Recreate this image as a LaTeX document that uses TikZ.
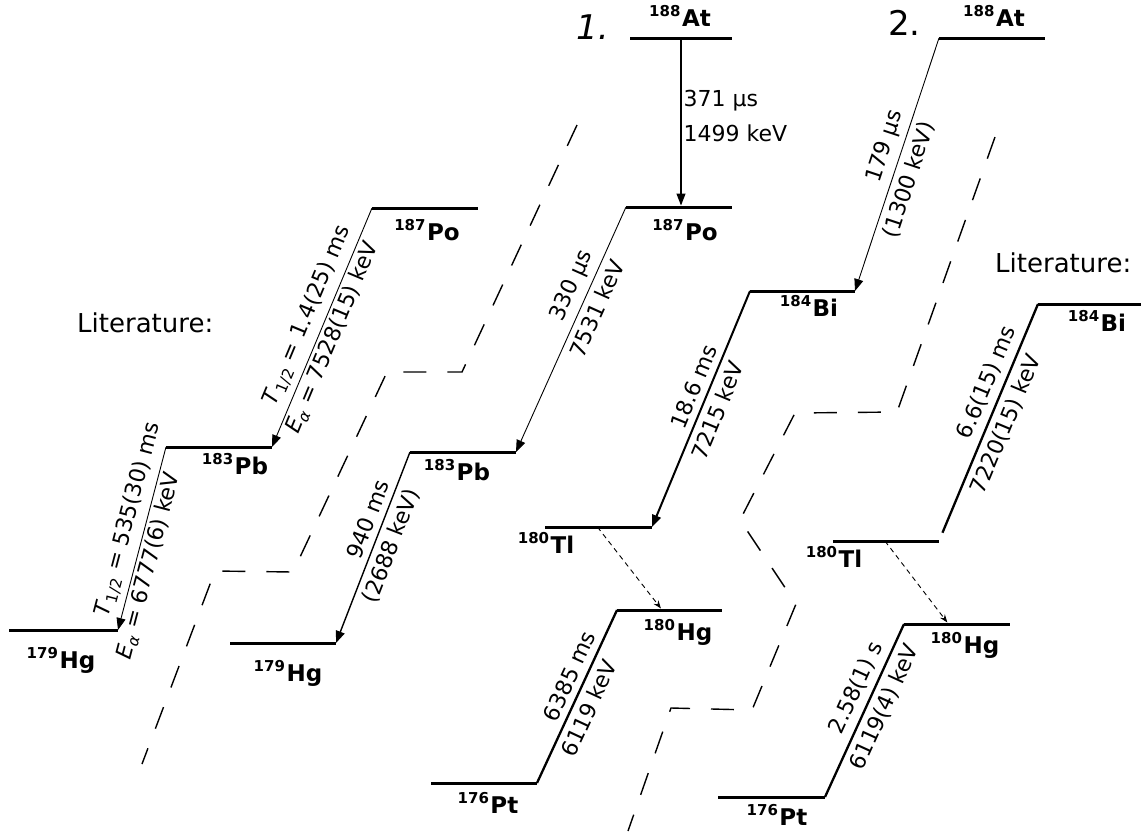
\documentclass[tikz,border=0pt]{standalone}
\usepackage{fontspec}
\setmainfont{DejaVu Sans}
\usetikzlibrary{arrows.meta, calc}

\newcommand{\iso}[2]{\raisebox{10pt}{\fontsize{15}{15}\selectfont #1}\kern1.5pt#2}

\begin{document}
\begin{tikzpicture}[x=1pt, y=-1pt,
  level/.style={line width=3pt},
  nuc/.style={font=\fontsize{23}{23}\selectfont\bfseries, inner sep=0pt, anchor=base},
  lab/.style={font=\fontsize{22}{22}\selectfont, sloped, inner sep=6pt},
  tip/.style={-{Triangle[length=12pt,width=9pt]}},
  sep/.style={line width=1.4pt, dash pattern=on 23pt off 21pt},
  feed/.style={line width=0.9pt, dash pattern=on 5pt off 4pt, -{Stealth[length=8pt,width=6pt]}, shorten >=2pt}]
\useasboundingbox (0,0) rectangle (1141,831);
% levels
\foreach \n/\xa/\xb/\y in {PoA/372/478/208, PbA/166/272/447, HgA/9/118/630,
    AtB/630/732/38, PoB/626/732/207, PbB/410/516/452, HgB/230/336/643,
    AtC/939/1045/38, BiC/750/855/291, TlC/545/652/527, HgC/617/722/610, PtC/431/537/783,
    BiD/1038/1141/304, TlD/833/939/541, HgD/904/1010/624, PtD/718/825/797}
  \draw[level] (\xa,\y) coordinate (\n-l) -- (\xb,\y) coordinate (\n-r);
% level names
\foreach \n/\x/\y/\m/\el in {PoA/427/240/187/Po, PbA/235/474/183/Pb, HgA/61/668/179/Hg,
    AtB/680/26/188/At, PoB/685/240/187/Po, PbB/457/480/183/Pb, HgB/288/681/179/Hg,
    AtC/994/26/188/At, BiC/809/316/184/Bi, TlC/546/553/180/Tl, HgC/678/640/180/Hg, PtC/488/813/176/Pt,
    BiD/1097/331/184/Bi, TlD/834/567/180/Tl, HgD/965/653/180/Hg, PtD/777/825/176/Pt}
  \node[nuc] (\n) at (\x,\y) {\iso{\m}{\el}};

\node[font=\fontsize{26}{26}\selectfont, anchor=base west, inner sep=0pt] (litA) at (77,332) {Literature:};
\node[font=\fontsize{26}{26}\selectfont, anchor=base west, inner sep=0pt] (litD) at (995,272) {Literature:};
\node[font=\fontsize{34}{34}\selectfont\itshape, anchor=base west, inner sep=0pt] (one) at (576,39) {1.};
\node[font=\fontsize{34}{34}\selectfont, anchor=base west, inner sep=0pt] (two) at (888,35) {2.};

% literature, left
\draw[line width=0.9pt, tip] (PoA-l) --
  node[lab, above, pos=.48] {\textit{T}\textsubscript{1/2} = 1.4(25) ms}
  node[lab, below, pos=.52, inner sep=3pt] {\textit{E}\textsubscript{\textit{α}} = 7528(15) keV} (PbA-r);
\draw[line width=0.9pt, tip] (PbA-l) --
  node[lab, above, pos=.42] {\textit{T}\textsubscript{1/2} = 535(30) ms}
  node[lab, below, pos=.63, inner sep=3pt] {\textit{E}\textsubscript{\textit{α}} = 6777(6) keV} (HgA-r);

% chain 1
\coordinate (AtB-m) at ($(AtB-l)!.5!(AtB-r)$);
\draw[line width=1.2pt, tip, shorten >=1.5pt] (AtB-m) --
  node[pos=.46, anchor=west, align=left, inner sep=2pt, font=\fontsize{22}{35}\selectfont] {371 μs\\1499 keV} (AtB-m |- PoB-l);
\draw[line width=0.9pt, tip] (PoB-l) --
  node[lab, above, pos=.35] {330 μs} node[lab, below, pos=.39] {7531 keV} (PbB-r);
\draw[line width=1.4pt, tip] (PbB-l) --
  node[lab, above, pos=.38] {940 ms} node[lab, below, pos=.46] {(2688 keV)} (HgB-r);

% chain 2
\draw[line width=0.9pt, tip] (AtC-l) --
  node[lab, above, pos=.45] {179 μs} node[lab, below, pos=.54] {(1300 keV)} (BiC-r);
\draw[line width=2pt, tip] (BiC-l) --
  node[lab, above, pos=.43] {18.6 ms} node[lab, below, pos=.48] {7215 keV} (TlC-r);
\draw[feed] ($(TlC-l)!.49!(TlC-r)$) -- ($(HgC-l)!.43!(HgC-r)$);
\draw[line width=2.3pt] (HgC-l) --
  node[lab, above, pos=.42] {6385 ms} node[lab, below, pos=.53] {6119 keV} (PtC-r);

% literature, right
\draw[line width=2.3pt, shorten >=9pt] (BiD-l) --
  node[lab, above, pos=.36] {6.6(15) ms} node[lab, below, pos=.48] {7220(15) keV} (TlD-r);
\draw[feed] ($(TlD-l)!.49!(TlD-r)$) -- ($(HgD-l)!.42!(HgD-r)$);
\draw[line width=2.3pt] (HgD-l) --
  node[lab, above, pos=.41] {2.58(1) s} node[lab, below, pos=.44] {6119(4) keV} (PtD-r);

% separators
\draw[sep] (577,125) -- (462,372) -- (387,372) -- (293,572) -- (215,571) -- (142,764);
\draw[sep] (995,137) -- (897,412) -- (795,413) -- (740,520) -- (796,604) -- (752,710) -- (671,708) -- (628,831);
\end{tikzpicture}
\end{document}
